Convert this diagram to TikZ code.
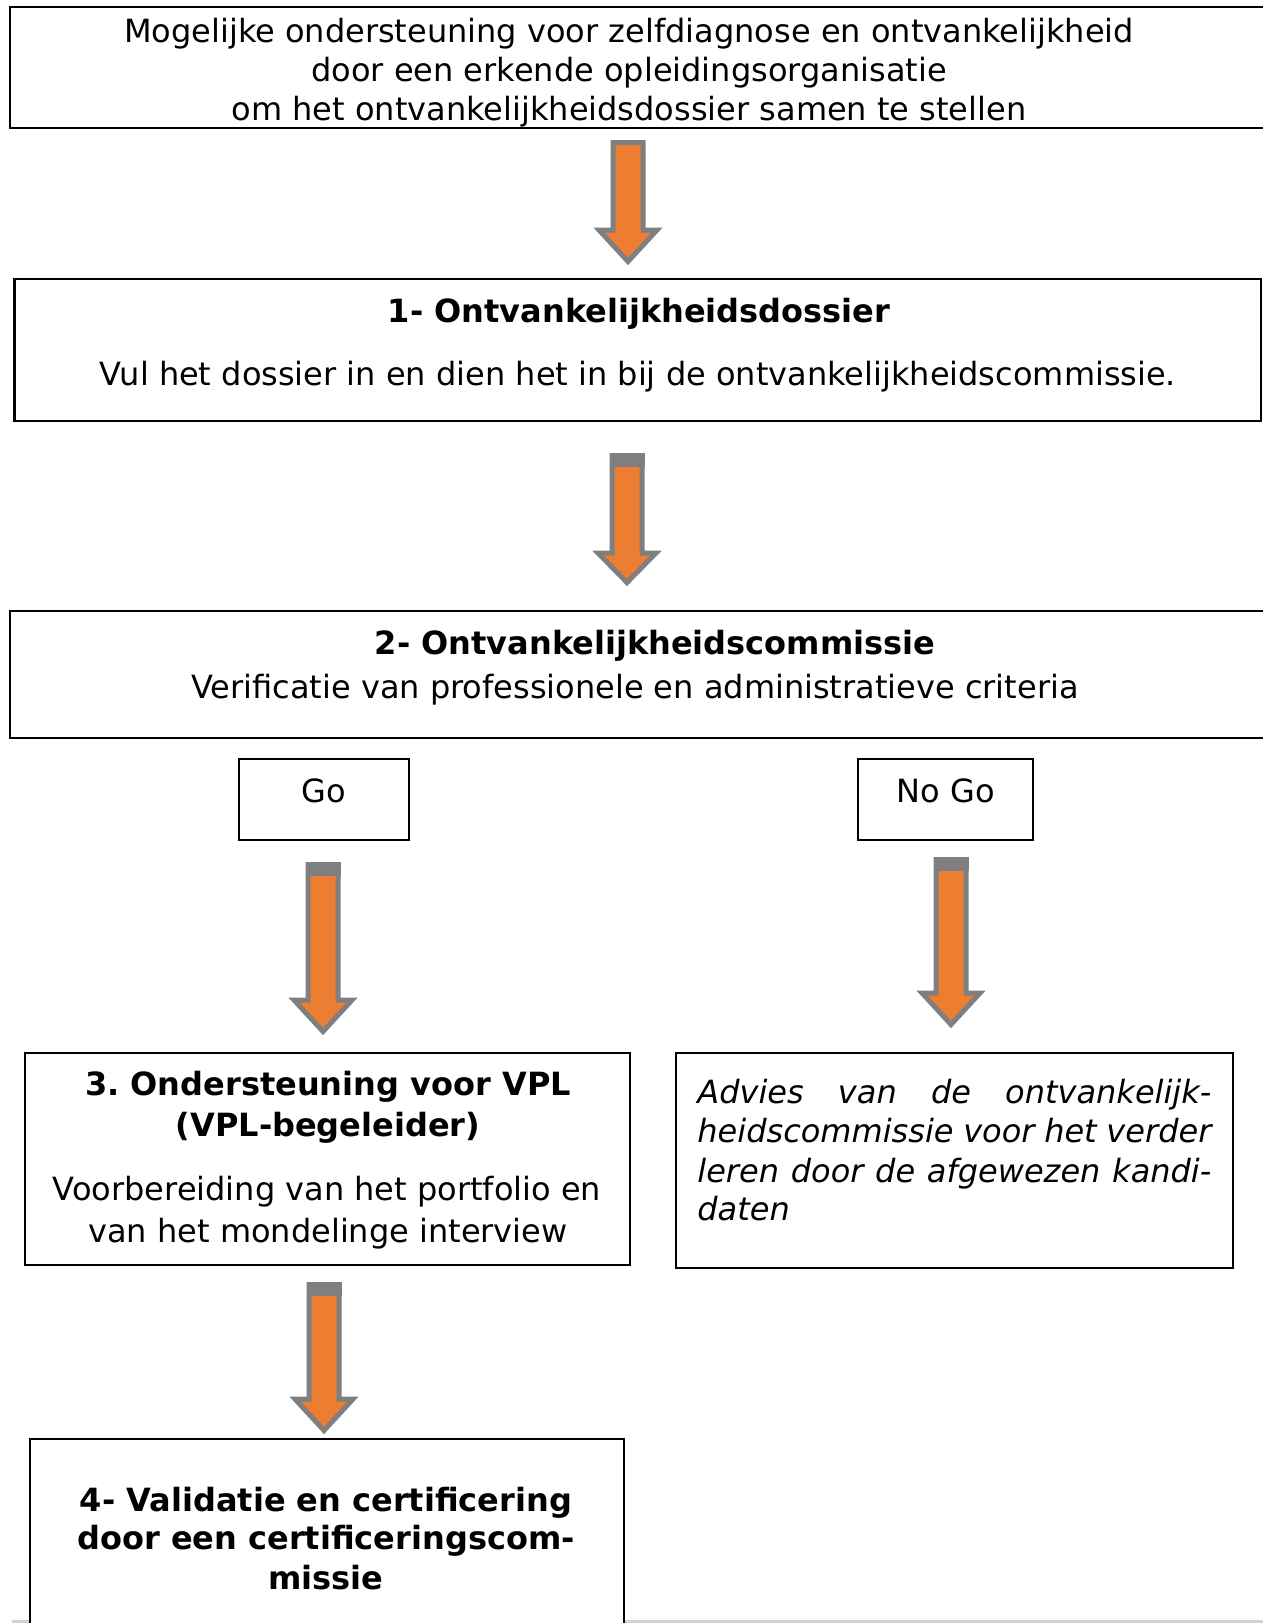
\documentclass[tikz,border=0pt]{standalone}
\usepackage{fontspec}
\setmainfont{DejaVu Sans}
\frenchspacing
\definecolor{arrorange}{HTML}{ED7D31}
\definecolor{arrgray}{HTML}{7F7F7F}
\newcommand\blockarrow[5]{%
  \coordinate (#1s) at (#2,#3);
  \coordinate (#1e) at (#2,#5);
  \filldraw[arrowbody] ({#2-15},{#3+2.5}) -- ({#2+15},{#3+2.5}) -- ({#2+15},#4) -- ({#2+29},#4)
     -- (#2,{#5-3.5}) -- ({#2-29},#4) -- ({#2-15},#4) -- cycle;
}
\newcommand\arrowcap[2]{\fill[arrgray] ({#1-17.5},#2) rectangle ({#1+17.5},{#2+14});}
\begin{document}
\begin{tikzpicture}[x=0.5pt,y=-0.5pt,
  box/.style={draw=black, line width=1.2pt, fill=white, inner sep=0pt, outer sep=0pt, anchor=north west},
  smallbox/.style={box, line width=0.8pt},
  txt/.style={inner sep=0pt, anchor=base, font=\fontsize{16}{19.5}\selectfont},
  btxt/.style={txt, font=\fontsize{16}{19.5}\selectfont\bfseries},
  itxt/.style={txt, anchor=base west, font=\fontsize{16}{19.5}\selectfont\itshape},
  arrowbody/.style={fill=arrorange, draw=arrgray, line width=2.5pt}]
\useasboundingbox (0,0) rectangle (1263,1623);
\clip (0,0) rectangle (1263,1623);
\fill[white] (0,0) rectangle (1263,1623);
\draw[gray!35, line width=1.5pt] (12,1621) -- (1263,1621);

% boxes
\node[box, minimum width=635pt, minimum height=60.5pt] (top) at (10,7) {};
\node[box, minimum width=623.25pt, minimum height=71pt] (b1) at (14.5,279) {};
\node[box, minimum width=635pt, minimum height=63.5pt] (b2) at (10,611) {};
\node[smallbox, minimum width=85pt, minimum height=40.5pt] (go) at (239,759) {};
\node[smallbox, minimum width=87.5pt, minimum height=40.5pt] (nogo) at (858,759) {};
\node[smallbox, minimum width=302.5pt, minimum height=106pt] (b3) at (25,1053) {};
\node[smallbox, minimum width=278.5pt, minimum height=107.5pt] (adv) at (676,1053) {};
\node[smallbox, minimum width=297pt, minimum height=100.5pt] (b4) at (30,1439) {};

% texts
\node[txt] (t0a) at (629,42) {Mogelijke ondersteuning voor zelfdiagnose en ontvankelijkheid};
\node[txt] (t0b) at (629,81) {door een erkende opleidingsorganisatie};
\node[txt] (t0c) at (629,120) {om het ontvankelijkheidsdossier samen te stellen};

\node[btxt] (t1a) at (639,322) {1- Ontvankelijkheidsdossier};
\node[txt] (t1b) at (638,385) {Vul het dossier in en dien het in bij de ontvankelijkheidscommissie.};

\node[btxt] (t2a) at (655,654) {2- Ontvankelijkheidscommissie};
\node[txt] (t2b) at (635,698) {Verificatie van professionele en administratieve criteria};

\node[txt] (tgo) at (324,802) {Go};
\node[txt] (tnogo) at (946,802) {No Go};

\node[btxt] (t3a) at (328,1095) {3. Ondersteuning voor VPL};
\node[btxt] (t3b) at (328,1136) {(VPL-begeleider)};
\node[txt] (t3c) at (327,1200) {Voorbereiding van het portfolio en};
\node[txt] (t3d) at (328,1242) {van het mondelinge interview};

\node[itxt] (tva) at (697,1103) {\makebox[257pt][s]{Advies van de ontvankelijk-}};
\node[itxt] (tvb) at (697,1142) {\makebox[257pt][s]{heidscommissie voor het verder}};
\node[itxt] (tvc) at (697,1182) {\makebox[257pt][s]{leren door de afgewezen kandi-}};
\node[itxt] (tvd) at (697,1220) {daten};

\node[btxt] (t4a) at (326,1511) {4- Validatie en certificering};
\node[btxt] (t4b) at (326,1549) {door een certificeringscom-};
\node[btxt] (t4c) at (326,1589) {missie};

% arrows
\blockarrow{a1}{628}{140}{230}{265}
\blockarrow{a2}{627}{453}{553}{586}
\arrowcap{627}{453}
\blockarrow{a3}{323}{862}{1000}{1035}
\arrowcap{323}{862}
\blockarrow{a4}{951}{857}{993}{1028}
\arrowcap{951}{857}
\blockarrow{a5}{324}{1282}{1399}{1434}
\arrowcap{324}{1282}
\end{tikzpicture}
\end{document}
